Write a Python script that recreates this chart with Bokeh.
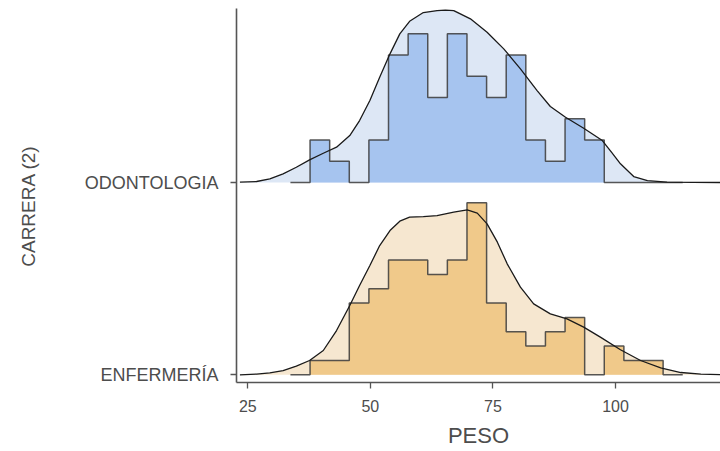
import numpy as np
from bokeh.plotting import figure
from bokeh.models import FixedTicker, Range1d
from bokeh.embed import file_html
from bokeh.resources import INLINE

# ---------------- data ----------------
categories = ["ENFERMERÍA", "ODONTOLOGIA"]
x_ticks = [25, 50, 75, 100]

bin_start = 33.7
bin_width = 4.0

odon_counts = [0, 2, 1, 0, 2, 6, 7, 4, 7, 5, 4, 6, 2, 1, 3, 2, 0, 0, 0, 0]
enf_counts = [0, 1, 1, 5, 6, 8, 8, 7, 8, 12, 5, 3, 2, 3, 4, 0, 2, 1, 1, 0]

odon_dens_x = [23.4, 26.8, 29.5, 32.2, 34.9, 37.6, 40.4, 43.1, 45.8, 47.8, 49.9,
               51.9, 54.0, 56.0, 58.0, 60.8, 63.6, 65.3, 67.0, 70.4, 73.8, 77.2,
               80.6, 84.0, 86.7, 89.8, 93.5, 97.3, 99.2, 101.0, 103.7, 106.5,
               110.5, 122.0]
odon_dens_y = [0.00007, 0.00023, 0.00084, 0.00197, 0.00346, 0.00514, 0.00663,
               0.00799, 0.01063, 0.01403, 0.01855, 0.02382, 0.02912, 0.03364,
               0.03649, 0.03846, 0.03891, 0.03900, 0.03891, 0.03704, 0.03400,
               0.03025, 0.02572, 0.02081, 0.01720, 0.01477, 0.01229, 0.00950,
               0.00680, 0.00423, 0.00136, 0.00045, 0.00007, 0.0]

enf_dens_x = [23.4, 26.8, 29.5, 32.2, 34.9, 37.6, 40.4, 43.1, 45.8, 47.8, 49.9,
              51.9, 54.0, 56.0, 58.0, 60.8, 63.6, 67.0, 69.75, 71.8, 73.8, 75.9,
              77.9, 80.6, 83.3, 86.7, 90.1, 93.5, 96.9, 101.0, 105.1, 109.2,
              113.3, 117.4, 122.0]
enf_dens_y = [0.0, 0.00016, 0.00045, 0.00097, 0.00197, 0.00324, 0.00550, 0.01002,
              0.01568, 0.02020, 0.02473, 0.02925, 0.03265, 0.03477, 0.03568,
              0.03581, 0.03604, 0.03681, 0.03733, 0.03658, 0.03416, 0.03002,
              0.02511, 0.01984, 0.01606, 0.01380, 0.01267, 0.01079, 0.00853,
              0.00566, 0.00324, 0.00158, 0.00052, 0.00016, 0.0]

SCALE = 22.98  # ridge height (category units) per unit density

FONT = "Liberation Sans"
AXIS_COL = "#555555"
TEXT_COL = "#4d4d4d"

p = figure(frame_width=484, frame_height=374,
           x_range=Range1d(22.70, 121.4), y_range=Range1d(-0.040, 1.905),
           output_backend="svg", toolbar_location=None,
           min_border_left=236, min_border_right=0,
           min_border_top=8, min_border_bottom=0)
p.outline_line_color = None
p.grid.visible = False
p.background_fill_color = "white"


def ridge(base, counts, dx, dy, hist_fill, dens_fill):
    counts = np.array(counts, dtype=float)
    n = counts.sum()
    edges = bin_start + bin_width * np.arange(len(counts) + 1)
    h = counts / (n * bin_width) * SCALE
    dy_s = base + np.array(dy) * SCALE
    # density area
    p.varea(x=dx, y1=base, y2=dy_s, fill_color=dens_fill, fill_alpha=1.0)
    # histogram outline path
    xs = [edges[0]]
    ys = [base]
    for i in range(len(counts)):
        xs += [edges[i], edges[i + 1]]
        ys += [base + h[i], base + h[i]]
    xs.append(edges[-1])
    ys.append(base)
    p.patch(xs, ys, fill_color=hist_fill, line_color=None)
    p.line(xs, ys, line_color="#3a3a3a", line_width=1.5, line_alpha=0.85)
    # density curve
    p.line(dx, dy_s, line_color="#1a1a1a", line_width=1.3)


ridge(1, odon_counts, odon_dens_x, odon_dens_y, "#a6c4ef", "#dde7f5")
ridge(0, enf_counts, enf_dens_x, enf_dens_y, "#f0c98a", "#f6e7d0")

# axes
xa = p.xaxis[0]
ya = p.yaxis[0]
xa.ticker = FixedTicker(ticks=x_ticks)
ya.ticker = FixedTicker(ticks=[0, 1])
ya.major_label_overrides = {0: categories[0], 1: categories[1]}

for ax in (xa, ya):
    ax.axis_line_color = AXIS_COL
    ax.axis_line_width = 1.6
    ax.major_tick_line_color = AXIS_COL
    ax.major_tick_line_width = 1.3
    ax.major_tick_out = 6
    ax.major_tick_in = 0
    ax.minor_tick_out = 0
    ax.minor_tick_in = 0
    ax.major_label_text_color = TEXT_COL
    ax.major_label_text_font = FONT
    ax.axis_label_text_font = FONT
    ax.axis_label_text_font_style = "normal"
    ax.axis_label_text_color = TEXT_COL

xa.axis_label = "PESO"
xa.axis_label_text_font_size = "22px"
xa.major_label_text_font_size = "16px"
xa.major_label_standoff = 11
xa.axis_label_standoff = 8

ya.axis_label = "CARRERA (2)" + "\u00a0" * 4
ya.axis_label_text_font_size = "19px"
ya.major_label_text_font_size = "18px"
ya.major_label_standoff = 12
ya.axis_label_standoff = 43

open("out.html", "w").write(file_html(p, INLINE))
